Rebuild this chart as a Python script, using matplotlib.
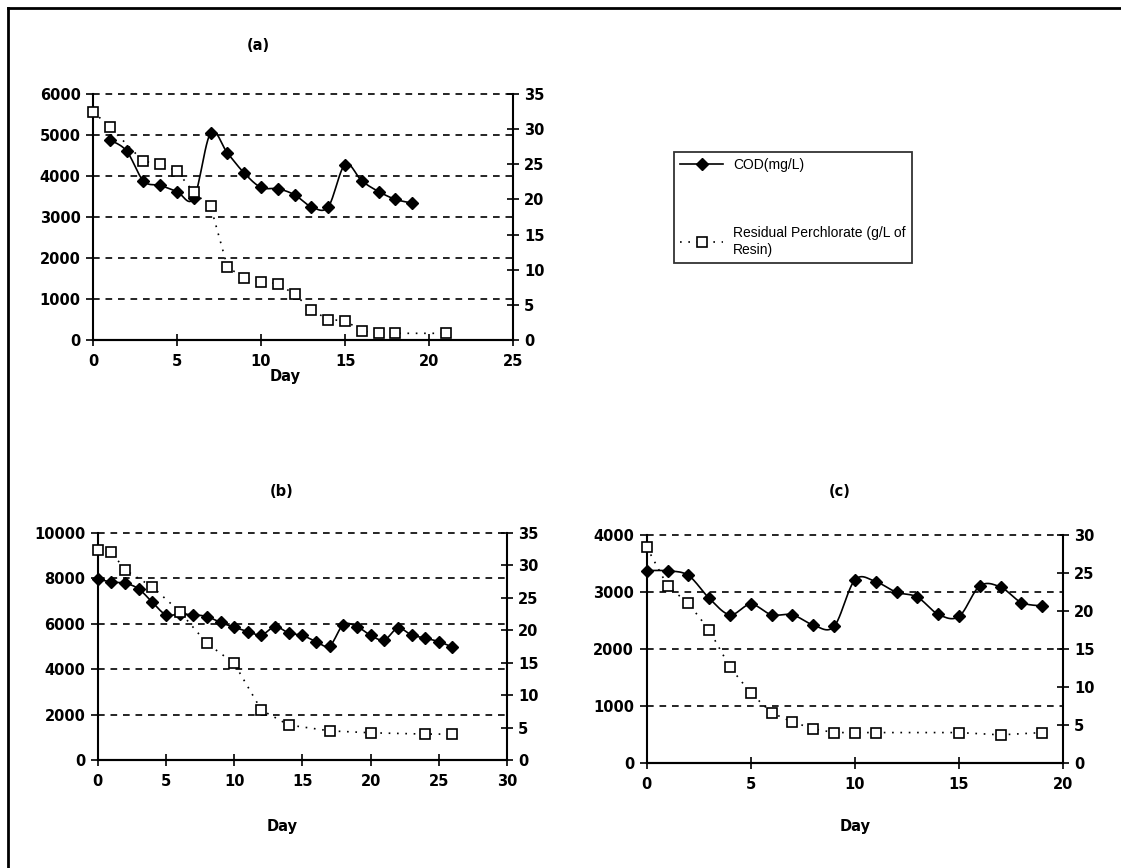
import matplotlib.pyplot as plt
from matplotlib.lines import Line2D
import numpy as np

plt.rcParams['font.family'] = ['DejaVu Sans']
plt.rcParams['font.weight'] = 'bold'

# panel (a)
a_cod_day = [1, 2, 3, 4, 5, 6, 7, 8, 9, 10, 11, 12, 13, 14, 15, 16, 17, 18, 19]
a_cod = [4880, 4610, 3880, 3770, 3620, 3460, 5050, 4560, 4070, 3720, 3690, 3540,
         3250, 3250, 4280, 3880, 3620, 3430, 3340]
a_res_day = [0, 1, 3, 4, 5, 6, 7, 8, 9, 10, 11, 12, 13, 14, 15, 16, 17, 18, 21]
a_res = [32.5, 30.3, 25.4, 25.1, 24.0, 21.0, 19.0, 10.4, 8.8, 8.3, 8.0, 6.5,
         4.3, 2.9, 2.75, 1.3, 0.95, 0.95, 0.95]

# panel (b)
b_cod_day = list(range(0, 27))
b_cod = [7970, 7840, 7790, 7540, 6950, 6400, 6430, 6400, 6320, 6060, 5850, 5660,
         5510, 5880, 5590, 5490, 5220, 5030, 5960, 5880, 5490, 5290, 5810, 5510,
         5370, 5220, 4970]
b_res_day = [0, 1, 2, 4, 6, 8, 10, 12, 14, 17, 20, 24, 26]
b_res = [32.4, 32.1, 29.3, 26.7, 22.9, 18.0, 14.9, 7.7, 5.4, 4.5, 4.2, 4.0, 4.0]

# panel (c)
c_cod_day = list(range(0, 20))
c_cod = [3375, 3370, 3290, 2890, 2600, 2785, 2600, 2600, 2420, 2395, 3210, 3180,
         2995, 2910, 2610, 2570, 3105, 3085, 2815, 2755]
c_res_day = [0, 1, 2, 3, 4, 5, 6, 7, 8, 9, 10, 11, 15, 17, 19]
c_res = [28.4, 23.3, 21.0, 17.5, 12.6, 9.2, 6.6, 5.4, 4.5, 4.0, 4.0, 4.0, 4.0, 3.7, 4.0]

cod_label = 'COD(mg/L)'
res_label = 'Residual Perchlorate (g/L of\nResin)'


def smooth(x, y, n=12):
    # catmull-rom style path through the points (like a smoothed spreadsheet line)
    x = np.asarray(x, float)
    y = np.asarray(y, float)
    px = np.concatenate([[x[0]], x, [x[-1]]])
    py = np.concatenate([[y[0]], y, [y[-1]]])
    xs, ys = [], []
    t = np.linspace(0, 1, n, endpoint=False)
    for i in range(1, len(px) - 2):
        for p, out in ((px, xs), (py, ys)):
            p0, p1, p2, p3 = p[i - 1], p[i], p[i + 1], p[i + 2]
            out.extend(0.5 * ((2 * p1) + (-p0 + p2) * t +
                              (2 * p0 - 5 * p1 + 4 * p2 - p3) * t ** 2 +
                              (-p0 + 3 * p1 - 3 * p2 + p3) * t ** 3))
    xs.append(x[-1])
    ys.append(y[-1])
    return xs, ys


def panel(rect, cod_day, cod, res_day, res, xmax, xstep, ymax, ystep, rmax):
    ax = fig.add_axes(rect)
    ax2 = ax.twinx()
    sx, sy = smooth(cod_day, cod)
    ax.plot(sx, sy, color='black', lw=1.2, clip_on=False)
    ax.plot(cod_day, cod, ls='none', marker='D', ms=6.5, color='black', clip_on=False)
    ax2.plot(res_day, res, color='black', lw=1.2, ls=(0, (1, 4)),
             marker='s', ms=7, mfc='white', mec='black', mew=1.2, clip_on=False)
    ax.set_xlim(0, xmax)
    ax.set_ylim(0, ymax)
    ax2.set_ylim(0, rmax)
    ax.set_xticks(np.arange(0, xmax + 1, xstep))
    ax.set_yticks(np.arange(0, ymax + 1, ystep))
    ax2.set_yticks(np.arange(0, rmax + 1, 5))
    for yv in np.arange(ystep, ymax + 1, ystep):
        ax.axhline(yv, color='black', lw=1.2, ls=(0, (4, 3.5)), zorder=0, clip_on=False)
    for a in (ax, ax2):
        a.spines['top'].set_visible(False)
        for s in a.spines.values():
            s.set_linewidth(1.5)
    ax.spines['right'].set_visible(False)
    ax2.spines['left'].set_visible(False)
    ax.tick_params(axis='x', direction='inout', length=8, width=1.2, labelsize=10.5, pad=6)
    ax.tick_params(axis='y', direction='out', length=5, width=1.2, labelsize=10.5, pad=4)
    ax2.tick_params(axis='y', direction='inout', length=8, width=1.2, labelsize=10.5, pad=4)
    return ax


fig = plt.figure(figsize=(11.21, 8.68), dpi=100)

panel([0.083, 0.6083, 0.3747, 0.2834], a_cod_day, a_cod, a_res_day, a_res, 25, 5, 6000, 1000, 35)
panel([0.0872, 0.1244, 0.3651, 0.2615], b_cod_day, b_cod, b_res_day, b_res, 30, 5, 10000, 2000, 35)
panel([0.5769, 0.121, 0.3714, 0.2627], c_cod_day, c_cod, c_res_day, c_res, 20, 5, 4000, 1000, 30)

fig.text(258 / 1121, 1 - 45 / 868, '(a)', ha='center', va='center', fontsize=10.5)
fig.text(282 / 1121, 1 - 491 / 868, '(b)', ha='center', va='center', fontsize=10.5)
fig.text(840 / 1121, 1 - 491 / 868, '(c)', ha='center', va='center', fontsize=10.5)
fig.text(285 / 1121, 1 - 377 / 868, 'Day', ha='center', va='center', fontsize=10.5)
fig.text(282 / 1121, 1 - 826 / 868, 'Day', ha='center', va='center', fontsize=10.5)
fig.text(855 / 1121, 1 - 826 / 868, 'Day', ha='center', va='center', fontsize=10.5)

handles = [
    Line2D([], [], color='black', lw=1.2, marker='D', ms=6),
    Line2D([], [], color='black', lw=1.2, ls=(0, (1, 4)), marker='s', ms=7,
           mfc='white', mec='black', mew=1.2),
]
leg = fig.legend(handles, [cod_label, res_label], loc='upper left',
                 bbox_to_anchor=(674 / 1121, 1 - 152 / 868), frameon=True,
                 fancybox=False, edgecolor='black', borderaxespad=0,
                 labelspacing=3.9, handlelength=3.1, handletextpad=0.7,
                 borderpad=0.45,
                 prop={'family': ['Liberation Sans Narrow', 'Liberation Sans', 'DejaVu Sans'],
                       'weight': 'normal', 'size': 10})
leg.get_frame().set_linewidth(1.3)

# outer frame (left and top edges)
fig.add_artist(Line2D([8 / 1121, 8 / 1121], [0, 1 - 8 / 868], color='black', lw=2))
fig.add_artist(Line2D([8 / 1121, 1], [1 - 8 / 868, 1 - 8 / 868], color='black', lw=2))

fig.savefig('out.png', dpi=100)
